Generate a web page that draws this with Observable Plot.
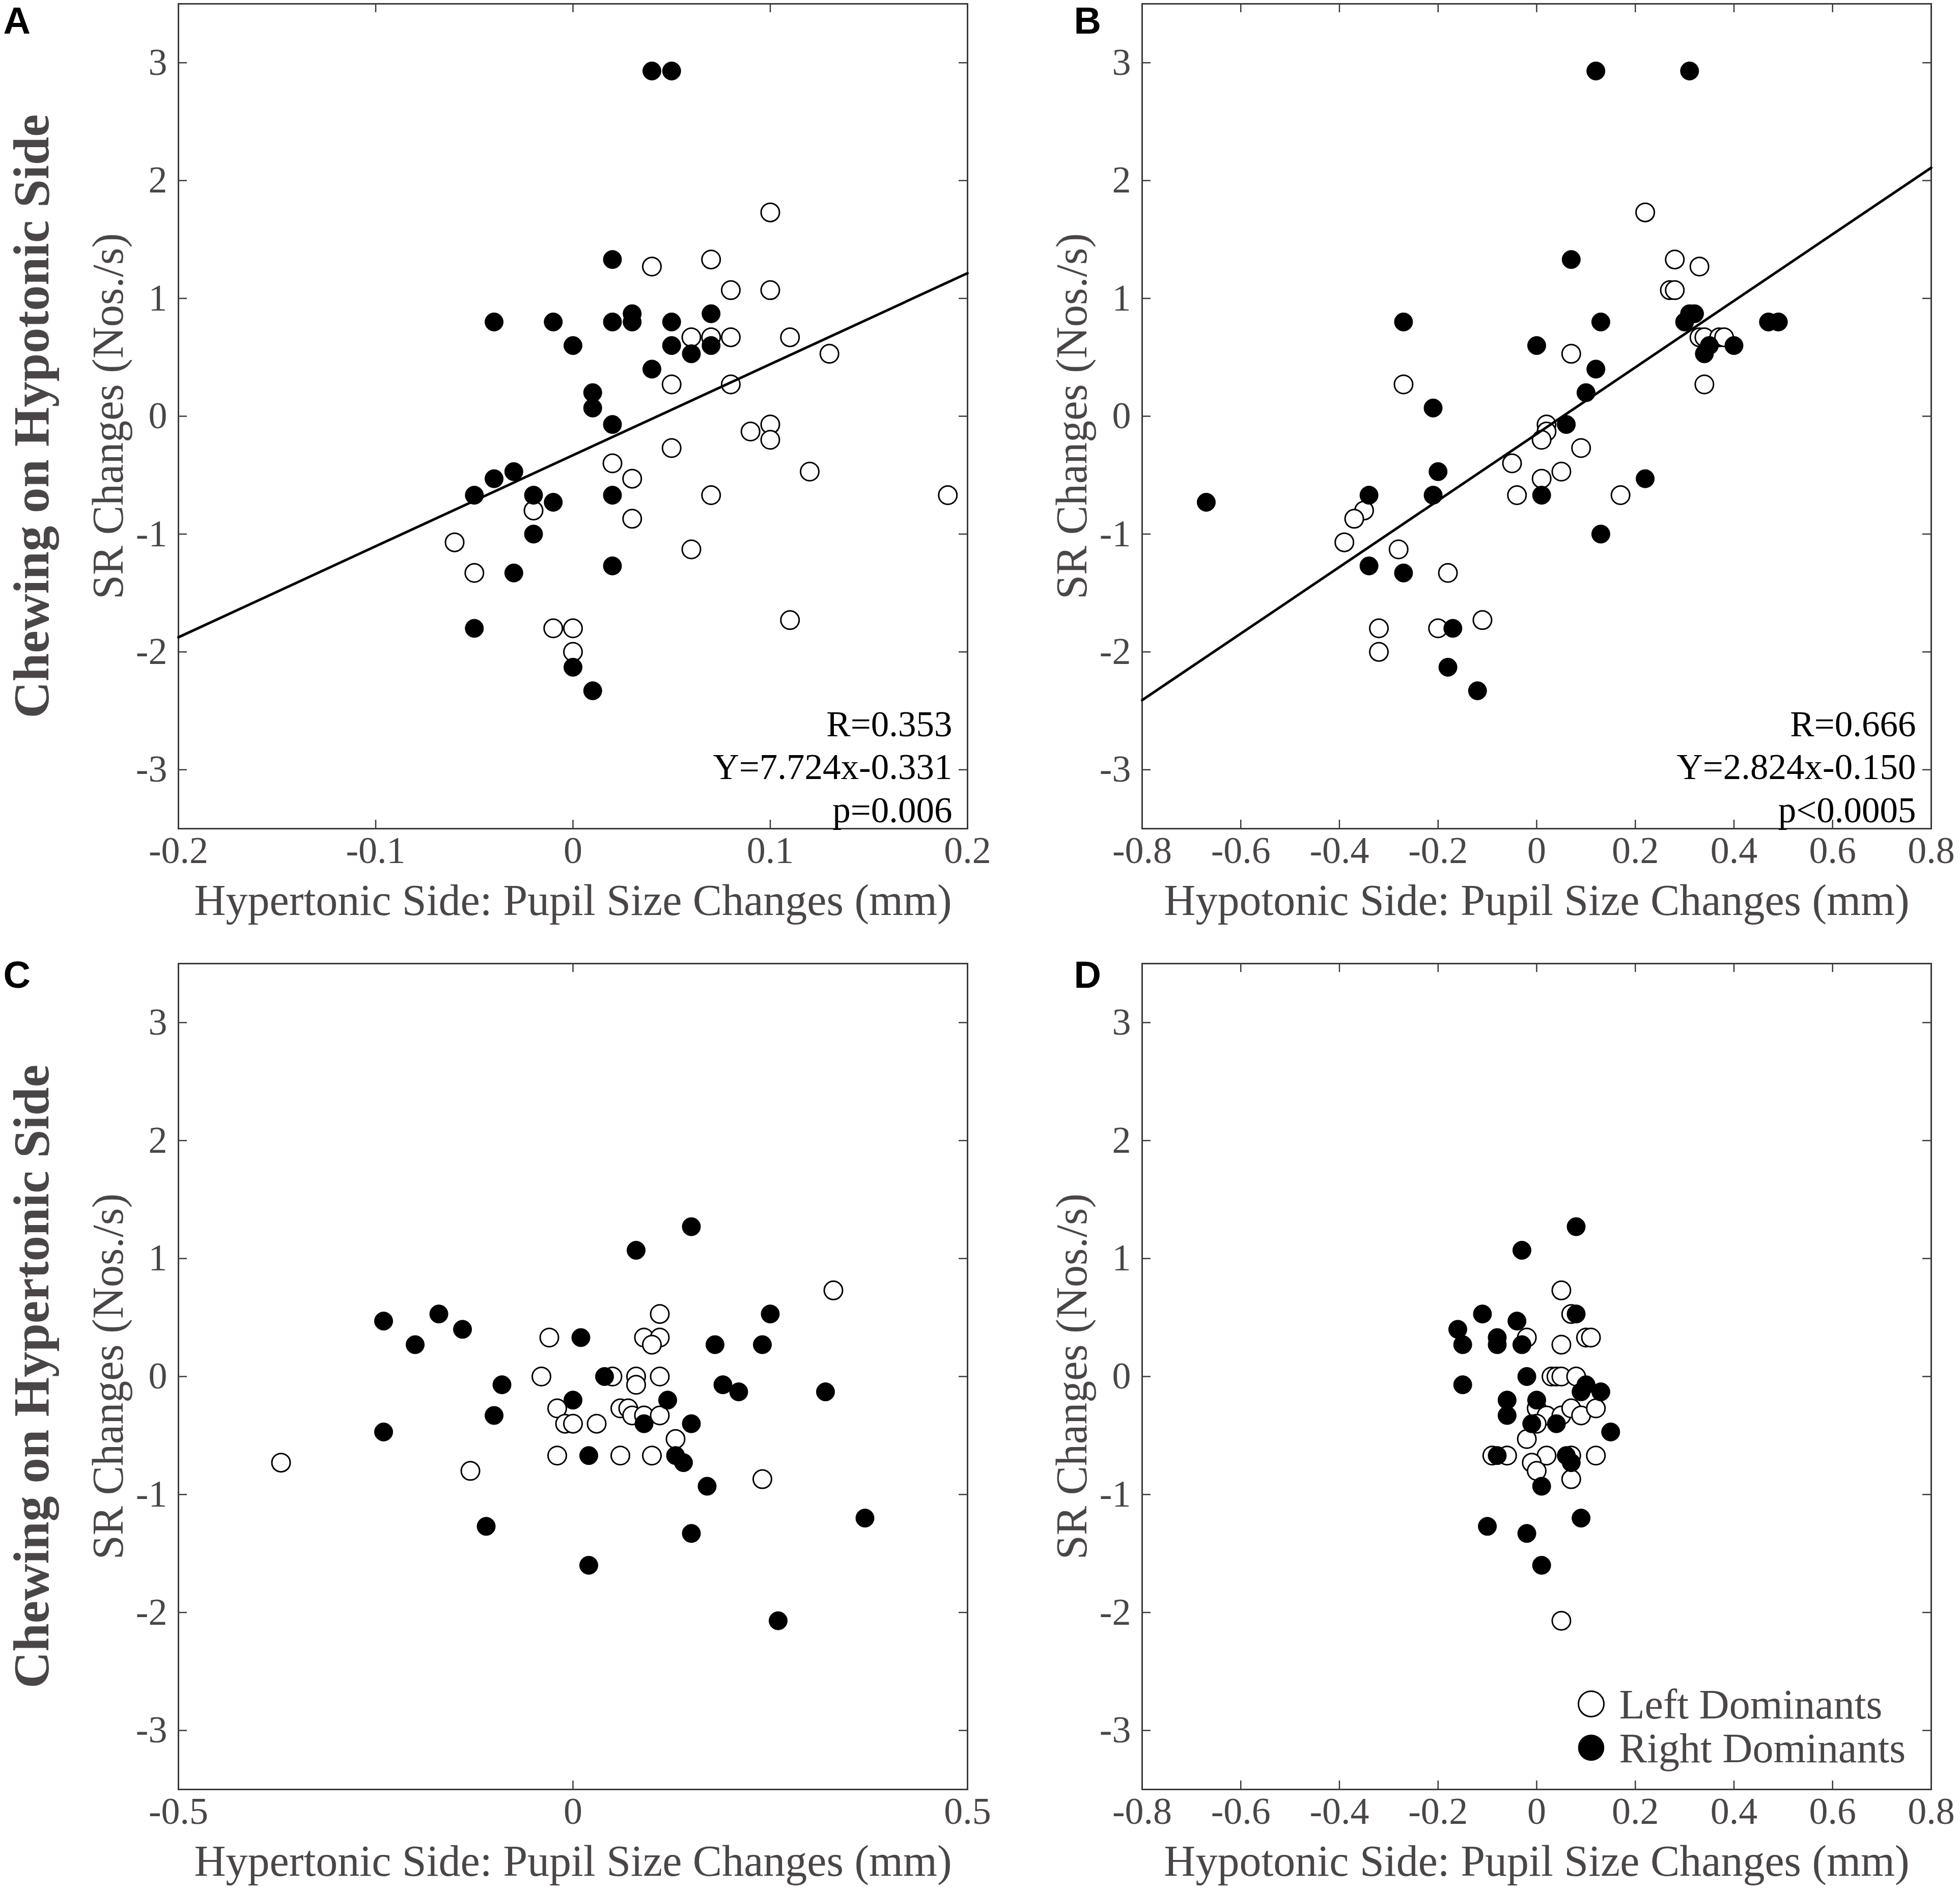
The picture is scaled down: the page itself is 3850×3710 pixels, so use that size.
<!DOCTYPE html>
<html>
<head>
<meta charset="utf-8">
<script src="https://cdn.jsdelivr.net/npm/d3@7"></script>
<script src="https://cdn.jsdelivr.net/npm/@observablehq/plot@0.6"></script>
<style>
  html, body { margin: 0; padding: 0; background: #fff; }
  #fig { position: relative; width: 3850px; height: 3710px; background: #fff; overflow: hidden; }
  .panel { position: absolute; }
  .panel svg { overflow: visible; }
</style>
</head>
<body>
<div id="fig"></div>
<script>
// ---------- tick values & labels ----------
const srTicks = [-3, -2, -1, 0, 1, 2, 3];
const srDomain = [-3.5, 3.5];
const xTicksA = [-0.2, -0.1, 0, 0.1, 0.2];
const xTicksC = [-0.5, 0, 0.5];
const xTicksBD = [-0.8, -0.6, -0.4, -0.2, 0, 0.2, 0.4, 0.6, 0.8];
const yLabel = "SR Changes (Nos./s)";
const xLabelHyper = "Hypertonic Side: Pupil Size Changes (mm)";
const xLabelHypo = "Hypotonic Side: Pupil Size Changes (mm)";
const rowTitles = ["Chewing on Hypotonic Side", "Chewing on Hypertonic Side"];
const panelLetters = ["A", "B", "C", "D"];
const legendLabels = ["Left Dominants", "Right Dominants"];

// ---------- Panel A (hypotonic chewing, hypertonic pupil) ----------
const aLeftX = [0.10, 0.04, 0.07, 0.08, 0.10, 0.06, 0.07, 0.08, 0.11, 0.13, 0.05, 0.08, 0.09, 0.10, 0.10, 0.05, 0.02, 0.03, 0.12, 0.07, 0.19, -0.02, 0.03, -0.06, 0.06, -0.05, -0.01, 0.00, 0.00, 0.11];
const aLeftY = [1.73, 1.27, 1.33, 1.07, 1.07, 0.67, 0.67, 0.67, 0.67, 0.53, 0.27, 0.27, -0.13, -0.07, -0.20, -0.27, -0.40, -0.53, -0.47, -0.67, -0.67, -0.80, -0.87, -1.07, -1.13, -1.33, -1.80, -1.80, -2.00, -1.73];
const aRightX = [0.04, 0.05, 0.02, -0.04, -0.01, 0.02, 0.03, 0.03, 0.05, 0.07, 0.00, 0.05, 0.06, 0.07, 0.04, 0.01, 0.01, 0.02, -0.03, -0.04, -0.05, -0.02, -0.01, 0.02, -0.02, -0.03, 0.02, -0.05, 0.00, 0.01];
const aRightY = [2.93, 2.93, 1.33, 0.80, 0.80, 0.80, 0.87, 0.80, 0.80, 0.87, 0.60, 0.60, 0.53, 0.60, 0.40, 0.20, 0.07, -0.07, -0.47, -0.53, -0.67, -0.67, -0.73, -0.67, -1.00, -1.33, -1.27, -1.80, -2.13, -2.33];
const aFit = {slope: 7.724, intercept: -0.331};
const aStats = ["R=0.353", "Y=7.724x-0.331", "p=0.006"];

// ---------- Panel B (hypotonic chewing, hypotonic pupil) ----------
const bLeftX = [0.22, 0.28, 0.33, 0.27, 0.28, 0.33, 0.34, 0.37, 0.38, 0.07, -0.27, 0.34, 0.02, 0.02, 0.01, 0.09, -0.05, 0.05, 0.01, -0.04, 0.17, -0.35, -0.37, -0.39, -0.28, -0.18, -0.32, -0.20, -0.32, -0.11];
const bLeftY = [1.73, 1.33, 1.27, 1.07, 1.07, 0.67, 0.67, 0.67, 0.67, 0.53, 0.27, 0.27, -0.07, -0.13, -0.20, -0.27, -0.40, -0.47, -0.53, -0.67, -0.67, -0.80, -0.87, -1.07, -1.13, -1.33, -1.80, -1.80, -2.00, -1.73];
const bRightX = [0.12, 0.31, 0.07, -0.27, 0.13, 0.30, 0.31, 0.32, 0.47, 0.49, 0.00, 0.35, 0.34, 0.40, 0.12, 0.10, -0.21, 0.06, -0.20, -0.21, -0.34, 0.01, 0.22, 0.13, -0.67, -0.34, -0.27, -0.17, -0.18, -0.12];
const bRightY = [2.93, 2.93, 1.33, 0.80, 0.80, 0.80, 0.87, 0.87, 0.80, 0.80, 0.60, 0.60, 0.53, 0.60, 0.40, 0.20, 0.07, -0.07, -0.47, -0.67, -0.67, -0.67, -0.53, -1.00, -0.73, -1.27, -1.33, -1.80, -2.13, -2.33];
const bFit = {slope: 2.824, intercept: -0.150};
const bStats = ["R=0.666", "Y=2.824x-0.150", "p<0.0005"];

// ---------- Panel C (hypertonic chewing, hypertonic pupil) ----------
const cLeftX = [0.33, 0.11, -0.03, 0.09, 0.11, 0.10, -0.04, 0.05, 0.08, 0.11, 0.08, -0.02, 0.06, 0.07, 0.075, 0.09, 0.11, -0.01, 0.00, 0.03, 0.13, -0.02, 0.06, 0.10, -0.37, -0.13, 0.24];
const cLeftY = [0.73, 0.53, 0.33, 0.33, 0.33, 0.27, 0.00, 0.00, 0.00, 0.00, -0.07, -0.27, -0.27, -0.27, -0.33, -0.33, -0.33, -0.40, -0.40, -0.40, -0.53, -0.67, -0.67, -0.67, -0.73, -0.80, -0.87];
const cRightX = [0.15, 0.08, -0.24, -0.17, -0.14, -0.20, 0.01, 0.25, 0.18, 0.24, -0.09, 0.04, 0.19, 0.21, 0.32, 0.00, 0.12, -0.10, 0.09, 0.15, -0.24, 0.02, 0.13, 0.14, 0.17, -0.11, 0.15, 0.37, 0.02, 0.26];
const cRightY = [1.27, 1.07, 0.47, 0.53, 0.40, 0.27, 0.33, 0.53, 0.27, 0.27, -0.07, 0.00, -0.07, -0.13, -0.13, -0.20, -0.20, -0.33, -0.40, -0.40, -0.47, -0.67, -0.67, -0.73, -0.93, -1.27, -1.33, -1.20, -1.60, -2.07];

// ---------- Panel D (hypertonic chewing, hypotonic pupil) ----------
const dLeftX = [0.05, 0.07, -0.02, 0.05, 0.10, 0.11, 0.03, 0.04, 0.05, 0.08, 0.00, 0.02, 0.05, 0.07, 0.09, 0.12, 0.00, -0.02, -0.09, -0.06, 0.02, 0.07, 0.12, -0.01, 0.00, 0.07, 0.05];
const dLeftY = [0.73, 0.53, 0.33, 0.27, 0.33, 0.33, 0.00, 0.00, 0.00, 0.00, -0.27, -0.33, -0.33, -0.27, -0.33, -0.27, -0.40, -0.53, -0.67, -0.67, -0.67, -0.67, -0.67, -0.73, -0.80, -0.87, -2.07];
const dRightX = [0.08, -0.03, -0.11, -0.04, -0.16, 0.08, -0.08, -0.08, -0.15, -0.03, -0.02, -0.15, 0.10, 0.09, 0.13, -0.06, -0.06, 0.00, -0.01, 0.04, 0.15, -0.08, 0.06, 0.07, 0.01, -0.10, -0.02, 0.09, 0.01];
const dRightY = [1.27, 1.07, 0.53, 0.47, 0.40, 0.53, 0.33, 0.27, 0.27, 0.27, 0.00, -0.07, -0.07, -0.13, -0.13, -0.20, -0.33, -0.20, -0.40, -0.40, -0.47, -0.67, -0.67, -0.73, -0.93, -1.27, -1.33, -1.20, -1.60];

// ---------- styling ----------
const textGray = "#4a4648";
const axisColor = "#3a3a3a";
const serif = "'Liberation Serif', 'Times New Roman', Times, serif";
const sans = "'Liberation Sans', Arial, Helvetica, sans-serif";
const fmt = d => (d < 0 ? "-" : "") + String(Math.abs(d));
const toTable = (xs, ys) => xs.map((x, i) => ({x, y: ys[i]}));

const W = 1925, ML = 350, MR = 25, MT = 7, MB = 228, TICK = 17;

function panel({letter, letterDy, H, xDomain, xTicks, xLabel, leftX, leftY, rightX, rightY, fit, stats, rowTitle, legend}) {
  const frameW = W - ML - MR;
  const frameH = H - MT - MB;
  const marks = [
    Plot.frame({stroke: axisColor, strokeWidth: 3}),
    // inward ticks on all four sides
    Plot.ruleX(xTicks, {x: d => d, insetTop: frameH - TICK, stroke: axisColor, strokeWidth: 2.5}),
    Plot.ruleX(xTicks, {x: d => d, insetBottom: frameH - TICK, stroke: axisColor, strokeWidth: 2.5}),
    Plot.ruleY(srTicks, {y: d => d, insetRight: frameW - TICK, stroke: axisColor, strokeWidth: 2.5}),
    Plot.ruleY(srTicks, {y: d => d, insetLeft: frameW - TICK, stroke: axisColor, strokeWidth: 2.5}),
    Plot.dot(toTable(leftX, leftY), {x: "x", y: "y", r: 18, fill: "white", stroke: "black", strokeWidth: 3}),
    Plot.dot(toTable(rightX, rightY), {x: "x", y: "y", r: 18, fill: "black", stroke: "black", strokeWidth: 1})
  ];
  if (fit) {
    const line = xDomain.map(x => ({x, y: fit.slope * x + fit.intercept}));
    marks.push(Plot.line(line, {x: "x", y: "y", stroke: "black", strokeWidth: 5}));
  }
  if (stats) {
    marks.push(Plot.text([stats.join("\n")], {
      text: d => d, frameAnchor: "bottom-right", textAnchor: "end", lineAnchor: "bottom",
      lineHeight: 1.19, dx: -30, dy: -13, fontSize: 71, fill: "black", fontFamily: serif
    }));
  }
  // axis titles
  marks.push(Plot.text([yLabel], {
    text: d => d, frameAnchor: "left", dx: -137, rotate: -90, textAnchor: "middle", lineAnchor: "middle",
    fontSize: 86, fill: textGray, fontFamily: serif
  }));
  marks.push(Plot.text([xLabel], {
    text: d => d, frameAnchor: "bottom", dy: 169, textAnchor: "middle", lineAnchor: "bottom",
    fontSize: 86, fill: textGray, fontFamily: serif
  }));
  if (rowTitle) {
    marks.push(Plot.text([rowTitle], {
      text: d => d, frameAnchor: "left", dx: -288, rotate: -90, textAnchor: "middle", lineAnchor: "middle",
      fontSize: 100, fontWeight: "bold", fill: textGray, fontFamily: serif
    }));
  }
  marks.push(Plot.text([letter], {
    text: d => d, frameAnchor: "top-left", dx: rowTitle ? -344 : -134, dy: letterDy,
    textAnchor: "start", lineAnchor: "top", fontSize: 74, fontWeight: "bold", fill: "black", fontFamily: sans
  }));
  if (legend) {
    marks.push(Plot.dot([legend[0]], {frameAnchor: "bottom-right", dx: -668, dy: -168, r: 25, fill: "white", stroke: "black", strokeWidth: 3}));
    marks.push(Plot.dot([legend[1]], {frameAnchor: "bottom-right", dx: -668, dy: -82, r: 25, fill: "black", stroke: "black"}));
    marks.push(Plot.text([legend[0]], {text: d => d, frameAnchor: "bottom-right", dx: -613, dy: -140, textAnchor: "start", lineAnchor: "bottom", fontSize: 82, fill: textGray, fontFamily: serif}));
    marks.push(Plot.text([legend[1]], {text: d => d, frameAnchor: "bottom-right", dx: -613, dy: -54, textAnchor: "start", lineAnchor: "bottom", fontSize: 82, fill: textGray, fontFamily: serif}));
  }
  return Plot.plot({
    width: W, height: H,
    marginLeft: ML, marginRight: MR, marginTop: MT, marginBottom: MB,
    x: {domain: xDomain, ticks: xTicks, tickSize: 0, tickPadding: 15, tickFormat: fmt, label: null},
    y: {domain: srDomain, ticks: srTicks, tickSize: 0, tickPadding: 22, tickFormat: fmt, label: null},
    style: {fontFamily: serif, fontSize: "74px", color: textGray, background: "transparent", overflow: "visible"},
    marks
  });
}

const fig = document.getElementById("fig");
const layout = [
  {left: 0, top: 0, cfg: {letter: panelLetters[0], letterDy: 6, H: 1855, xDomain: [-0.2, 0.2], xTicks: xTicksA, xLabel: xLabelHyper, leftX: aLeftX, leftY: aLeftY, rightX: aRightX, rightY: aRightY, fit: aFit, stats: aStats, rowTitle: rowTitles[0]}},
  {left: 1893, top: 0, cfg: {letter: panelLetters[1], letterDy: 6, H: 1855, xDomain: [-0.8, 0.8], xTicks: xTicksBD, xLabel: xLabelHypo, leftX: bLeftX, leftY: bLeftY, rightX: bRightX, rightY: bRightY, fit: bFit, stats: bStats}},
  {left: 0, top: 1885, cfg: {letter: panelLetters[2], letterDy: -5, H: 1857, xDomain: [-0.5, 0.5], xTicks: xTicksC, xLabel: xLabelHyper, leftX: cLeftX, leftY: cLeftY, rightX: cRightX, rightY: cRightY, rowTitle: rowTitles[1]}},
  {left: 1893, top: 1885, cfg: {letter: panelLetters[3], letterDy: -5, H: 1857, xDomain: [-0.8, 0.8], xTicks: xTicksBD, xLabel: xLabelHypo, leftX: dLeftX, leftY: dLeftY, rightX: dRightX, rightY: dRightY, legend: legendLabels}}
];
for (const p of layout) {
  const wrap = document.createElement("div");
  wrap.className = "panel";
  wrap.style.left = p.left + "px";
  wrap.style.top = p.top + "px";
  wrap.appendChild(panel(p.cfg));
  fig.appendChild(wrap);
}
</script>
</body>
</html>
